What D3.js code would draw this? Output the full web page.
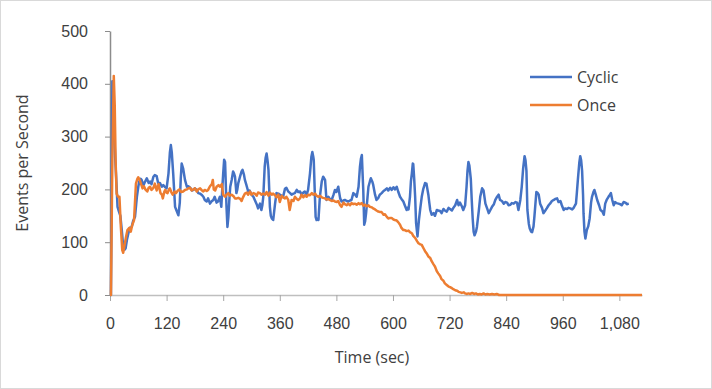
<!DOCTYPE html>
<html>
<head>
<meta charset="utf-8">
<script src="https://cdn.jsdelivr.net/npm/d3@7.9.0/dist/d3.min.js"></script>
<style>
  body { margin: 0; background: #fff; }
  svg { display: block; font-family: "Open Sans", sans-serif; }
  .tick text { fill: #404040; font-size: 16px; }
</style>
</head>
<body>
<svg width="712" height="389"></svg>
<script>
// [time (sec), events per second]
const cyclicData = [
  [0,0],[2,0],[5,405],[8,330],[11,260],[13,224],[16,167],[19,158],[22,150],[25,123],[28,92],[31,86],[33,88],[36,105],[39,117],[42,127],[46,129],[49,140],[53,148],[57,186],[60,205],[62,215],[65,220],[67,218],[71,208],[74,214],[78,221],[82,212],[85,215],[88,210],[92,224],[95,227],[99,225],[102,212],[106,212],[110,205],[113,208],[117,204],[120,202],[124,230],[127,270],[129,284],[131,270],[134,230],[138,167],[141,160],[145,151],[148,175],[150,220],[152,249],[155,240],[159,218],[163,205],[166,206],[170,203],[174,198],[177,199],[180,202],[184,199],[187,193],[191,192],[194,190],[198,186],[201,180],[205,177],[208,183],[212,173],[215,177],[219,180],[222,186],[226,175],[229,177],[233,186],[236,167],[238,200],[240,230],[242,256],[244,252],[245,225],[247,167],[249,129],[251,148],[253,180],[255,205],[258,218],[261,234],[263,230],[265,224],[268,193],[270,200],[272,212],[276,225],[279,234],[281,237],[284,228],[286,218],[289,209],[293,196],[296,198],[300,190],[304,186],[307,180],[311,172],[314,164],[318,173],[321,161],[323,170],[325,186],[328,243],[330,260],[332,268],[334,255],[336,237],[339,167],[341,150],[343,145],[346,142],[350,173],[353,193],[357,192],[360,190],[364,188],[367,186],[371,201],[374,203],[378,196],[382,193],[385,190],[389,192],[392,193],[396,199],[399,195],[403,196],[406,190],[410,194],[413,196],[417,190],[420,199],[424,230],[427,262],[429,271],[431,262],[432,256],[434,200],[436,148],[438,142],[440,145],[442,142],[445,186],[449,215],[452,224],[456,218],[459,180],[463,186],[466,182],[470,180],[474,190],[477,199],[480,195],[484,205],[488,183],[491,177],[495,179],[498,180],[502,178],[505,177],[509,179],[512,180],[516,193],[520,190],[523,186],[527,205],[530,243],[532,258],[534,265],[536,220],[537,199],[539,133],[541,140],[543,155],[546,185],[548,205],[551,215],[553,221],[556,215],[558,209],[562,190],[565,180],[569,184],[572,190],[576,193],[580,197],[583,199],[587,202],[590,198],[594,203],[597,199],[601,204],[604,200],[608,205],[611,196],[615,186],[618,182],[622,177],[625,170],[629,161],[631,165],[633,162],[636,186],[638,215],[640,230],[642,249],[643,248],[645,220],[647,186],[649,136],[652,111],[655,142],[658,165],[661,186],[664,200],[668,212],[671,211],[675,190],[677,175],[679,161],[682,152],[686,155],[689,150],[693,161],[696,160],[700,159],[703,155],[707,163],[710,160],[714,158],[718,165],[721,163],[725,160],[728,165],[732,170],[736,180],[739,170],[742,175],[746,168],[749,161],[753,170],[756,205],[758,235],[760,252],[762,245],[765,220],[767,180],[769,145],[771,120],[773,113],[776,120],[778,129],[782,160],[785,186],[789,202],[792,198],[796,173],[800,163],[803,155],[806,160],[810,167],[814,172],[817,180],[820,185],[824,190],[827,180],[831,178],[835,173],[838,176],[842,175],[845,170],[849,171],[852,174],[856,173],[860,176],[863,175],[866,161],[870,180],[873,205],[876,240],[879,263],[881,255],[883,235],[885,161],[888,135],[890,126],[893,120],[895,119],[898,130],[900,150],[904,195],[907,193],[909,190],[912,173],[916,165],[919,155],[923,160],[926,164],[930,170],[933,173],[937,178],[941,180],[944,182],[948,183],[951,176],[955,178],[958,170],[962,161],[965,164],[969,163],[972,165],[976,164],[980,162],[983,165],[986,170],[988,173],[990,195],[992,218],[995,250],[997,263],[999,255],[1001,235],[1003,190],[1004,155],[1006,120],[1008,107],[1011,123],[1014,130],[1017,145],[1020,175],[1022,186],[1025,195],[1027,199],[1030,190],[1033,180],[1037,170],[1040,161],[1044,158],[1047,152],[1050,173],[1053,180],[1057,186],[1060,190],[1062,193],[1065,180],[1068,170],[1071,176],[1074,174],[1078,173],[1082,172],[1085,170],[1089,176],[1093,175],[1096,172],[1100,173]
];

const onceData = [
  [0,0],[2,0],[5,256],[8,415],[10,360],[12,250],[14,192],[17,186],[20,186],[23,129],[26,85],[28,80],[31,95],[34,110],[37,123],[41,127],[44,120],[47,132],[51,142],[55,211],[58,220],[60,223],[63,218],[66,210],[69,202],[72,206],[75,200],[79,196],[82,203],[85,205],[88,199],[92,203],[95,211],[99,198],[103,210],[107,193],[110,190],[112,183],[115,195],[117,199],[120,194],[122,193],[125,200],[127,202],[130,195],[133,190],[137,196],[140,193],[144,198],[147,200],[151,195],[155,196],[159,199],[163,200],[166,202],[170,203],[173,198],[177,200],[180,202],[184,196],[187,200],[191,202],[194,199],[198,196],[201,199],[205,197],[208,199],[212,206],[216,210],[218,218],[220,200],[223,198],[226,205],[230,208],[233,205],[237,210],[240,190],[244,186],[247,190],[251,193],[254,188],[258,190],[262,187],[265,183],[269,183],[272,184],[276,182],[279,178],[282,185],[286,192],[290,194],[293,190],[297,196],[300,190],[304,193],[307,192],[311,188],[314,194],[318,193],[321,190],[325,192],[329,190],[332,195],[336,188],[339,194],[343,190],[346,192],[350,189],[353,185],[357,190],[360,176],[364,188],[367,185],[371,183],[374,186],[378,180],[381,161],[383,170],[385,180],[389,178],[392,186],[396,182],[399,180],[403,183],[406,190],[410,185],[413,189],[417,186],[420,190],[424,189],[428,193],[431,190],[435,192],[438,188],[442,186],[445,188],[449,185],[452,184],[456,183],[459,181],[463,182],[466,180],[470,178],[474,179],[477,177],[481,176],[484,178],[488,170],[491,167],[495,175],[498,172],[502,170],[505,173],[509,170],[512,174],[516,172],[519,173],[523,171],[527,174],[530,172],[534,174],[537,169],[541,171],[544,168],[548,170],[551,167],[555,166],[558,164],[562,162],[565,160],[569,158],[573,157],[576,157],[580,152],[583,153],[587,148],[590,145],[594,146],[597,146],[601,143],[604,142],[608,141],[611,138],[615,133],[618,127],[622,123],[625,123],[629,121],[633,122],[636,119],[640,117],[643,112],[647,108],[651,102],[654,98],[658,96],[661,95],[665,88],[668,83],[672,78],[675,73],[679,70],[682,64],[686,58],[689,54],[693,45],[696,41],[700,36],[703,30],[707,27],[710,22],[714,19],[718,16],[721,15],[725,13],[728,11],[732,9],[736,8],[739,6],[743,5],[746,4],[750,5],[753,3],[757,2],[760,3],[764,2],[768,4],[772,2],[776,3],[780,1],[784,2],[788,1],[792,3],[796,1],[800,2],[805,1],[810,2],[815,1],[820,2],[825,0],[1128,0]
];

const xTicks = [0, 120, 240, 360, 480, 600, 720, 840, 960, 1080];
const yTicks = [0, 100, 200, 300, 400, 500];
const seriesNames = ['Cyclic', 'Once'];
const seriesColors = ['#4472c4', '#ed7d31'];

const svg = d3.select('svg');

svg.append('rect')
  .attr('x', 0.5).attr('y', 0.5)
  .attr('width', 711).attr('height', 388)
  .attr('fill', '#fff')
  .attr('stroke', '#d9d9d9');

const x = d3.scaleLinear().domain([0, 1128]).range([110, 642]);
const y = d3.scaleLinear().domain([0, 500]).range([295, 31]);

const xAxis = svg.append('g')
  .attr('transform', 'translate(0,295)')
  .call(d3.axisBottom(x)
    .tickValues(xTicks)
    .tickFormat(d3.format(','))
    .tickSizeInner(6)
    .tickSizeOuter(0)
    .tickPadding(17));
xAxis.select('.domain').attr('stroke', '#bfbfbf').attr('stroke-width', 1.5);
xAxis.selectAll('.tick line').attr('stroke', '#a6a6a6');

const yAxis = svg.append('g')
  .attr('transform', 'translate(110,0)')
  .call(d3.axisLeft(y)
    .tickValues(yTicks)
    .tickSizeInner(5)
    .tickSizeOuter(0)
    .tickPadding(17));
yAxis.select('.domain').attr('stroke', '#8c8c8c').attr('stroke-width', 1.5);
yAxis.selectAll('.tick line').attr('stroke', '#8c8c8c');

const line = d3.line()
  .x(d => x(d[0]))
  .y(d => y(d[1]));

[cyclicData, onceData].forEach((data, i) => {
  svg.append('path')
    .datum(data)
    .attr('fill', 'none')
    .attr('stroke', seriesColors[i])
    .attr('stroke-width', 2.5)
    .attr('stroke-linejoin', 'round')
    .attr('d', line);
});

// axis titles
svg.append('text')
  .attr('x', 372).attr('y', 363)
  .attr('text-anchor', 'middle')
  .attr('fill', '#404040')
  .style('font-size', '16px')
  .text('Time (sec)');

svg.append('text')
  .attr('transform', 'translate(28,163) rotate(-90)')
  .attr('text-anchor', 'middle')
  .attr('fill', '#404040')
  .style('font-size', '16px')
  .text('Events per Second');

// legend
const legend = svg.append('g');
seriesNames.forEach((name, i) => {
  const ly = 77 + i * 28;
  legend.append('line')
    .attr('x1', 530).attr('x2', 572)
    .attr('y1', ly).attr('y2', ly)
    .attr('stroke', seriesColors[i])
    .attr('stroke-width', 2.5);
  legend.append('text')
    .attr('x', 577).attr('y', ly)
    .attr('dy', '0.35em')
    .attr('fill', '#404040')
    .style('font-size', '16px')
    .text(name);
});
</script>
</body>
</html>
